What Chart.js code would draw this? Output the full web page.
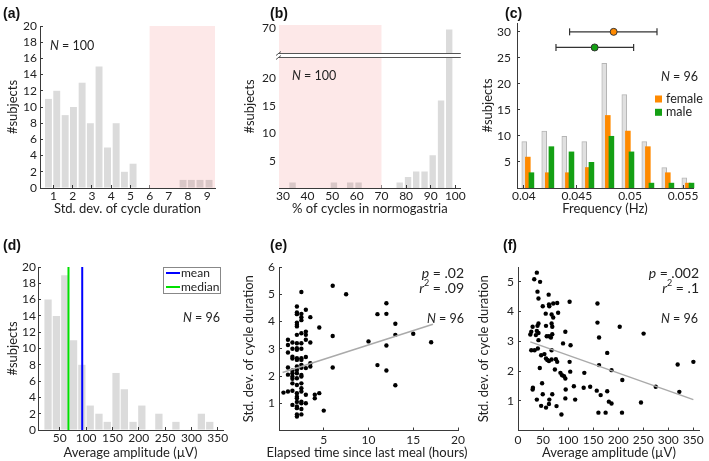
<!DOCTYPE html>
<html>
<head>
<meta charset="utf-8">
<title>Gastric rhythm summary</title>
<script src="https://cdn.jsdelivr.net/npm/chart.js@4.4.1/dist/chart.umd.min.js"></script>
<style>
  body { margin: 0; background: #fff; }
  #fig { position: relative; width: 709px; height: 461px; overflow: hidden; }
  #fig canvas { position: absolute; }
  .tag { position: absolute; font: bold 14px "Liberation Sans", Arial, sans-serif; line-height: 16px; color: #111; }
</style>
</head>
<body>
<div id="fig">
  <canvas id="pA" width="235" height="225" style="left:0;top:0"></canvas>
  <canvas id="pB" width="235" height="225" style="left:235px;top:0"></canvas>
  <canvas id="pC" width="239" height="225" style="left:470px;top:0"></canvas>
  <canvas id="pD" width="235" height="236" style="left:0;top:225px"></canvas>
  <canvas id="pE" width="235" height="236" style="left:235px;top:225px"></canvas>
  <canvas id="pF" width="239" height="236" style="left:470px;top:225px"></canvas>
  <div class="tag" style="left:3px;top:5px">(a)</div>
  <div class="tag" style="left:270px;top:5px">(b)</div>
  <div class="tag" style="left:505px;top:5px">(c)</div>
  <div class="tag" style="left:3px;top:237px">(d)</div>
  <div class="tag" style="left:270px;top:237px">(e)</div>
  <div class="tag" style="left:503px;top:237px">(f)</div>
</div>
<script>
// ---------- (a) std. dev. of cycle duration, histogram
const sdCentres = [0.74, 1.17, 1.61, 2.04, 2.49, 2.92, 3.37, 3.81, 4.26, 4.69, 5.14, 7.74, 8.17, 8.62, 9.09];
const sdCounts  = [11, 12, 9, 10, 13, 8, 15, 5, 8, 2, 3, 1, 1, 1, 1];
const sdTicksX  = [1, 2, 3, 4, 5, 6, 7, 8, 9];
const sdTicksY  = [0, 2, 4, 6, 8, 10, 12, 14, 16, 18, 20];
const sdAbnormal = [6, 9.4];

// ---------- (b) % of cycles in normogastria (broken y axis)
const pctCentres = [33.9, 50.7, 57.3, 60.7, 77.4, 80.8, 84.1, 87.5, 90.8, 94.2, 97.5];
const pctCounts  = [1, 1, 1, 1, 1, 2, 3, 3, 6, 16, 65];
const pctTicksX  = [30, 40, 50, 60, 70, 80, 90, 100];
const pctTicksY  = [5, 10, 15, 20, 70];
const pctAbnormal = [28.4, 70];

// ---------- (c) frequency by sex
const freqCentres = [0.04038, 0.04226, 0.04415, 0.04603, 0.04791, 0.0498, 0.05168, 0.05356, 0.05545];
const freqAll    = [9, 11, 10, 9, 24, 18, 9, 4, 2];
const freqFemale = [6, 3, 3, 4, 14, 11, 8, 3, 1];
const freqMale   = [3, 8, 7, 5, 10, 7, 1, 1, 1];
const femaleStat = [0.04431, 0.04846, 0.05254];   // lo, mean, hi
const maleStat   = [0.04303, 0.04667, 0.05034];
const femaleRow = 30, maleRow = 27;
const freqTicksX = [0.04, 0.045, 0.05, 0.055];
const freqTicksY = [5, 10, 15, 20, 25, 30];

// ---------- (d) average amplitude
const ampCentres = [27.7, 43.6, 59.5, 76.1, 91.9, 107.8, 124.4, 140.2, 156.8, 172.6, 189.2, 205.8, 221.6, 238.2, 254.1, 270.6, 286.5, 303.1, 318.9, 334.8];
const ampCounts  = [16, 14, 19, 11, 8, 3, 2, 1, 7, 5, 1, 3, 0, 2, 0, 1, 0, 0, 2, 1];
const ampMean = 92.6, ampMedian = 66.5;
const ampTicksX = [50, 100, 150, 200, 250, 300, 350];
const ampTicksY = [0, 2, 4, 6, 8, 10, 12, 14, 16, 18, 20];

// ---------- (e) SD vs hours since last meal
const mealHours = [0.5,
  1, 1, 1, 1, 1, 1,
  1.5, 1.5, 1.5, 1.5, 1.5, 1.5, 1.5, 1.5, 1.5, 1.5, 1.5,
  2, 2, 2, 2, 2, 2, 2, 2, 2, 2, 2, 2, 2, 2, 2, 2, 2, 2, 2, 2, 2, 2, 2, 2, 2,
  2.5, 2.5, 2.5, 2.5, 2.5, 2.5, 2.5, 2.5, 2.5, 2.5, 2.5, 2.5, 2.5, 2.5, 2.5, 2.5, 2.5, 2.5, 2.5, 2.5,
  3, 3, 3, 3, 3, 3, 3, 3,
  3.5, 3.5, 3.5, 3.5,
  4, 4, 4.5, 4.5, 5, 6, 6, 6, 7.5, 10, 11, 11, 12, 12, 12, 12, 13, 13, 13, 15, 17];
const mealSd = [1.39,
  3.33, 3.14, 2.86, 2.31, 1.43, 2.05,
  3.23, 2.71, 2.64, 2.10, 1.98, 1.90, 1.73, 1.46, 0.94, 2.2, 3.0,
  4.55, 4.33, 4.27, 3.96, 3.88, 3.82, 3.51, 3.02, 2.96, 2.65, 2.59, 2.35, 2.22, 1.92, 1.67, 1.37, 1.24, 1.18, 0.88, 0.82, 0.59, 0.51, 3.2, 2.1, 1.05,
  5.08, 4.28, 4.16, 3.57, 3.20, 2.65, 2.59, 2.41, 2.04, 1.98, 1.73, 1.55, 1.43, 1.06, 1.0, 0.79, 0.59, 3.0, 2.3, 4.05,
  4.43, 3.63, 3.51, 3.33, 2.29, 1.31, 1.0, 2.7,
  4.16, 3.23, 2.47, 2.35,
  1.31, 1.18, 3.78, 1.37, 0.73, 5.31, 3.47, 2.31, 5.0, 3.27, 4.27, 2.40, 4.67, 4.28, 3.12, 2.20, 3.92, 3.51, 1.66, 3.55, 3.24];
const mealFitX = [0.4, 17.2];
const mealFitY = [2.13, 3.9];

// ---------- (f) SD vs average amplitude
const ampX = [37.6, 32.4, 44.1, 38.9, 40.9, 61.2, 49.4, 61.8, 62.5, 70.3, 78.2, 103.0, 55.3, 67.1, 80.1, 70.3, 67.1, 40.9, 38.9, 55.9,
  68.4, 29.2, 26.5, 37.6, 40.9, 57.3, 61.8, 65.7, 68.4, 94.5, 24.6, 35.7, 40.9, 89.9, 104.9, 26.5, 33.1, 39.6, 67.1, 46.2,
  52.7, 55.9, 58.6, 61.8, 67.1, 75.6, 78.2, 103.0, 43.5, 73.6, 84.7, 88.0, 91.9, 94.5, 104.3, 29.8, 29.2, 48.1, 95.2, 111.5,
  49.4, 68.4, 37.6, 62.5, 94.5, 114.1, 46.2, 55.9, 61.8, 76.9, 86.7,
  158.6, 158.6, 203.0, 161.8, 250.7, 178.1, 161.8, 132.4, 186.7, 318.7, 350.1, 208.2, 131.1, 144.1, 157.2, 165.0, 178.1,
  181.4, 186.7, 245.5, 322.0, 160.5, 174.9, 207.6, 274.9];
const ampSd = [5.31, 5.09, 5.0, 4.67, 4.44, 4.57, 4.18, 4.24, 4.18, 4.27, 4.29, 4.33, 3.93, 3.9, 3.96, 3.8, 3.6, 3.6, 3.52, 3.52,
  3.49, 3.49, 3.32, 3.35, 3.28, 3.17, 3.17, 3.13, 3.24, 3.32, 3.23, 3.21, 3.04, 2.93, 2.87, 2.7, 2.7, 2.76, 2.7, 2.53,
  2.57, 2.42, 2.37, 2.34, 2.39, 2.4, 2.31, 2.31, 2.1, 2.05, 1.94, 1.86, 1.83, 1.75, 1.98, 1.44, 1.38, 1.59, 1.38, 1.49,
  1.22, 1.22, 1.04, 1.04, 1.08, 1.04, 0.83, 0.77, 0.89, 0.82, 0.54,
  4.27, 3.63, 3.49, 3.13, 3.26, 2.61, 2.2, 1.94, 2.03, 2.22, 2.31, 1.70, 1.44, 1.47, 1.34, 1.19, 1.32,
  0.97, 0.91, 0.94, 1.30, 0.60, 0.60, 0.60, 1.47];
const ampFitX = [24.6, 350];
const ampFitY = [2.98, 1.04];
const ampTicksXf = [0, 50, 100, 150, 200, 250, 300, 350];

// ---------- look
const FONT = 'Lato, "Open Sans", sans-serif';
const AXIS = '#3a3a3a';
const INK = '#222';
const BAR = 'rgba(0,0,0,0.14)';
const PINK = '#fde8e8';
const ORANGE = '#ff8a00';
const GREEN = '#14a014';
const TITLE = 13;

Chart.defaults.font.family = FONT;
Chart.defaults.font.size = 12;
Chart.defaults.color = INK;
Chart.defaults.animation = false;
Chart.defaults.events = [];
Chart.defaults.plugins.legend.display = false;
Chart.defaults.plugins.tooltip.enabled = false;

const pts = (xs, ys) => xs.map((x, i) => ({ x: x, y: ys[i] }));

// axis with inward tick marks and fixed box size, so the plot area lands where it should
function xAxis(o) {
  return {
    type: 'linear', position: 'bottom', min: o.min, max: o.max, offset: false,
    grid: { drawOnChartArea: false, tickLength: -3, color: AXIS, offset: false },
    border: { color: AXIS },
    ticks: { padding: o.pad, maxRotation: 0, autoSkip: false, callback: o.fmt || (v => String(v)) },
    title: { display: !!o.title, text: o.title, color: INK, font: { size: TITLE }, padding: { top: 0, bottom: o.tpad } },
    afterBuildTicks: s => { s.ticks = o.ticks.map(v => ({ value: v })); },
    afterFit: s => { s.height = o.h; }
  };
}
function yAxis(o) {
  return {
    type: 'linear', position: 'left', min: o.min, max: o.max,
    grid: { drawOnChartArea: false, tickLength: -3, color: AXIS },
    border: { color: AXIS },
    ticks: { padding: o.pad, autoSkip: false, callback: o.fmt || (v => String(v)) },
    title: { display: true, text: o.title, color: INK, font: { size: TITLE }, padding: { top: o.tpad, bottom: 0 } },
    afterBuildTicks: s => { s.ticks = o.ticks.map(v => ({ value: v })); },
    afterFit: s => { s.width = o.w; }
  };
}
const pad = (W, top, right) => ({ left: 0, top: top, right: W - right, bottom: 0 });

// shaded "abnormal" x range
const shade = {
  id: 'shade',
  beforeDatasetsDraw(chart, args, o) {
    if (!o.range) return;
    const { ctx, chartArea: a, scales: { x } } = chart;
    const x1 = Math.max(a.left, x.getPixelForValue(o.range[0]));
    const x2 = Math.min(a.right, x.getPixelForValue(o.range[1]));
    ctx.save();
    ctx.fillStyle = o.color;
    ctx.fillRect(x1, a.top, x2 - x1, a.bottom - a.top);
    ctx.restore();
  }
};

// free text (italic / superscript parts)
const notes = {
  id: 'notes',
  afterDraw(chart, args, o) {
    if (!o.items) return;
    const ctx = chart.ctx;
    ctx.save();
    ctx.fillStyle = INK;
    ctx.textBaseline = 'middle';
    o.items.forEach(it => {
      const size = it.size || 12.5;
      const f = p => (p.it ? 'italic ' : '') + (p.sup ? Math.round(size * 0.62) : size) + 'px ' + FONT;
      let w = 0;
      it.parts.forEach(p => { ctx.font = f(p); w += ctx.measureText(p.t).width; });
      let x = it.align === 'right' ? it.x - w : it.align === 'center' ? it.x - w / 2 : it.x;
      it.parts.forEach(p => {
        ctx.font = f(p);
        ctx.fillText(p.t, x, p.sup ? it.y - size * 0.33 : it.y);
        x += ctx.measureText(p.t).width;
      });
    });
    ctx.restore();
  }
};

// small legend drawn inside the plot
const keyBox = {
  id: 'keyBox',
  afterDraw(chart, args, o) {
    if (!o.items) return;
    const ctx = chart.ctx;
    ctx.save();
    if (o.frame) {
      const [x1, y1, x2, y2] = o.frame;
      ctx.fillStyle = '#fff';
      ctx.fillRect(x1, y1, x2 - x1, y2 - y1);
      ctx.strokeStyle = '#888';
      ctx.lineWidth = 1;
      ctx.strokeRect(x1 + 0.5, y1 + 0.5, x2 - x1, y2 - y1);
    }
    ctx.font = (o.fsize || 12) + 'px ' + FONT;
    ctx.textBaseline = 'middle';
    o.items.forEach((di, k) => {
      const ds = chart.data.datasets[di];
      const y = o.y + k * o.dy;
      if (o.kind === 'line') {
        ctx.strokeStyle = ds.borderColor;
        ctx.lineWidth = ds.borderWidth;
        ctx.beginPath(); ctx.moveTo(o.x, y); ctx.lineTo(o.x + o.len, y); ctx.stroke();
      } else {
        ctx.fillStyle = ds.backgroundColor;
        ctx.fillRect(o.x, y - o.size / 2, o.size, o.size);
      }
      ctx.fillStyle = INK;
      ctx.fillText(ds.label, o.tx, y);
    });
    ctx.restore();
  }
};

// broken y axis marks for (b)
const axisBreak = {
  id: 'axisBreak',
  afterDatasetsDraw(chart, args, o) {
    if (!o.at) return;
    const { ctx, chartArea: a, scales: { y } } = chart;
    const y1 = Math.round(y.getPixelForValue(o.at[1])) + 0.5;
    const y2 = Math.round(y.getPixelForValue(o.at[0])) + 0.5;
    ctx.save();
    ctx.fillStyle = '#fff';
    ctx.fillRect(a.left - 4, y1, a.right - a.left + 4, y2 - y1);
    ctx.strokeStyle = '#555';
    ctx.lineWidth = 1;
    ctx.beginPath();
    ctx.moveTo(a.left, y1); ctx.lineTo(a.right, y1);
    ctx.moveTo(a.left, y2); ctx.lineTo(a.right, y2);
    ctx.moveTo(a.left - 3, y1 + 2); ctx.lineTo(a.left + 2, y1 - 2);
    ctx.moveTo(a.left - 3, y2 + 2); ctx.lineTo(a.left + 2, y2 - 2);
    ctx.stroke();
    ctx.restore();
  }
};

// draw bar datasets in index order (grey behind, colours on top)
const barsInOrder = {
  id: 'barsInOrder',
  beforeDatasetsDraw(chart) {
    chart.getSortedVisibleDatasetMetas().filter(m => m.type === 'bar')
      .sort((a, b) => a.index - b.index).forEach(m => m.controller.draw());
  },
  beforeDatasetDraw(chart, args) {
    if (args.meta.type === 'bar') return false;
  }
};

const N = t => [{ t: 'N', it: true }, { t: ' = ' + t }];

// ---------- (a)
new Chart('pA', {
  type: 'bar',
  data: { datasets: [{ data: pts(sdCentres, sdCounts), backgroundColor: BAR, barPercentage: 0.84, categoryPercentage: 1 }] },
  options: {
    responsive: false,
    layout: { padding: pad(235, 26, 215) },
    scales: {
      x: xAxis({ min: 0.3, max: 9.4, ticks: sdTicksX, title: 'Std. dev. of cycle duration', h: 37, pad: 4, tpad: 8 }),
      y: yAxis({ min: 0, max: 20, ticks: sdTicksY, title: '#subjects', w: 40, pad: 6, tpad: 5 })
    },
    plugins: {
      shade: { range: sdAbnormal, color: PINK },
      notes: { items: [{ parts: N('100'), x: 50, y: 46 }] }
    }
  },
  plugins: [shade, notes]
});

// ---------- (b)  values above the break are squeezed into the top band
const BREAK_LOW = 24, TOP_REAL = 70, TOP_DISP = 29.3;
const brk = v => (v <= BREAK_LOW ? v : TOP_DISP - (TOP_REAL - v) * 0.06);
const pctTickVals = pctTicksY.map(brk);

new Chart('pB', {
  type: 'bar',
  data: { datasets: [{ data: pts(pctCentres, pctCounts.map(brk)), backgroundColor: BAR, barPercentage: 0.79, categoryPercentage: 1 }] },
  options: {
    responsive: false,
    layout: { padding: pad(235, 25, 228) },
    scales: {
      x: xAxis({ min: 28.4, max: 102.2, ticks: pctTicksX, title: '% of cycles in normogastria', h: 37, pad: 4, tpad: 8 }),
      y: yAxis({ min: 0, max: 29.8, ticks: pctTickVals, title: '#subjects', w: 44, pad: 6, tpad: 7,
        fmt: v => { const i = pctTickVals.indexOf(v); return i >= 0 ? String(pctTicksY[i]) : ''; } })
    },
    plugins: {
      shade: { range: pctAbnormal, color: PINK },
      axisBreak: { at: [23.9, 24.6] },
      notes: { items: [{ parts: N('100'), x: 57, y: 76 }] }
    }
  },
  plugins: [shade, axisBreak, notes]
});

// ---------- (c)
const cBar = { barPercentage: 1.55, categoryPercentage: 0.54 };
new Chart('pC', {
  type: 'bar',
  data: {
    datasets: [
      Object.assign({ label: 'all', data: pts(freqCentres, freqAll), backgroundColor: 'rgba(0,0,0,0.12)', borderColor: '#b5b5b5', borderWidth: 1 }, cBar),
      Object.assign({ label: 'female', data: pts(freqCentres, freqFemale), backgroundColor: ORANGE }, cBar),
      Object.assign({ label: 'male', data: pts(freqCentres, freqMale), backgroundColor: GREEN }, cBar),
      { type: 'line', showLine: false, data: [{ x: femaleStat[1], y: femaleRow }], pointRadius: 3.5,
        pointBackgroundColor: ORANGE, pointBorderColor: '#333', pointBorderWidth: 1 },
      { type: 'line', showLine: false, data: [{ x: maleStat[1], y: maleRow }], pointRadius: 3.5,
        pointBackgroundColor: GREEN, pointBorderColor: '#333', pointBorderWidth: 1 },
      { type: 'line', data: [{ x: femaleStat[0], y: femaleRow }, { x: femaleStat[2], y: femaleRow }],
        borderColor: '#333', borderWidth: 1.2, pointStyle: 'line', rotation: 90, pointRadius: 3.5, pointBorderColor: '#333', pointBorderWidth: 1.2 },
      { type: 'line', data: [{ x: maleStat[0], y: maleRow }, { x: maleStat[2], y: maleRow }],
        borderColor: '#333', borderWidth: 1.2, pointStyle: 'line', rotation: 90, pointRadius: 3.5, pointBorderColor: '#333', pointBorderWidth: 1.2 }
    ]
  },
  options: {
    responsive: false,
    layout: { padding: pad(239, 23, 223) },
    scales: {
      x: xAxis({ min: 0.03936, max: 0.05593, ticks: freqTicksX, title: 'Frequency (Hz)', h: 37, pad: 4, tpad: 8 }),
      y: yAxis({ min: 0, max: 31.7, ticks: freqTicksY, title: '#subjects', w: 47, pad: 9, tpad: 10 })
    },
    plugins: {
      notes: { items: [{ parts: N('96'), x: 228, y: 77, align: 'right' }] },
      keyBox: { items: [1, 2], kind: 'square', x: 185, y: 99, dy: 13.3, size: 7, tx: 196, fsize: 12.5 }
    }
  },
  plugins: [barsInOrder, notes, keyBox]
});

// ---------- (d)
new Chart('pD', {
  type: 'bar',
  data: {
    datasets: [
      { type: 'line', label: 'mean', data: [{ x: ampMean, y: 0 }, { x: ampMean, y: 20 }], borderColor: '#0000ff', borderWidth: 2, pointRadius: 0 },
      { type: 'line', label: 'median', data: [{ x: ampMedian, y: 0 }, { x: ampMedian, y: 20 }], borderColor: '#00e000', borderWidth: 2, pointRadius: 0 },
      { data: pts(ampCentres, ampCounts), backgroundColor: BAR, barPercentage: 0.88, categoryPercentage: 1 }
    ]
  },
  options: {
    responsive: false,
    layout: { padding: pad(235, 42, 223) },
    scales: {
      x: xAxis({ min: 8.6, max: 360, ticks: ampTicksX, title: 'Average amplitude (\u00b5V)', h: 31, pad: 4, tpad: 0.5 }),
      y: yAxis({ min: 0, max: 20, ticks: ampTicksY, title: '#subjects', w: 38, pad: 5, tpad: 5 })
    },
    plugins: {
      notes: { items: [{ parts: N('96'), x: 220, y: 93, align: 'right' }] },
      keyBox: { items: [0, 1], kind: 'line', frame: [163, 42, 220, 68], x: 166, len: 14, y: 48, dy: 14, tx: 181, fsize: 12 }
    }
  },
  plugins: [notes, keyBox]
});

// ---------- (e)  x title drawn as a note: it is wider than the axis
new Chart('pE', {
  type: 'scatter',
  data: {
    datasets: [
      { type: 'line', data: pts(mealFitX, mealFitY), borderColor: '#aaaaaa', borderWidth: 1.5, pointRadius: 0 },
      { data: pts(mealHours, mealSd), backgroundColor: '#000', borderWidth: 0, pointRadius: 2.2 }
    ]
  },
  options: {
    responsive: false,
    layout: { padding: pad(235, 42, 223) },
    scales: {
      x: xAxis({ min: 0, max: 20, ticks: [5, 10, 15, 20], title: '', h: 30.5, pad: 5, tpad: 0.5 }),
      y: yAxis({ min: 0, max: 6, ticks: [1, 2, 3, 4, 5, 6], title: 'Std. dev. of cycle duration', w: 44, pad: 7, tpad: 6 })
    },
    plugins: {
      notes: { items: [
        { parts: [{ t: 'p', it: true }, { t: ' = .02' }], x: 229, y: 48, align: 'right', size: 14 },
        { parts: [{ t: 'r', it: true }, { t: '2', sup: true }, { t: ' = .09' }], x: 229, y: 63, align: 'right', size: 14 },
        { parts: N('96'), x: 229, y: 94, align: 'right' },
        { parts: [{ t: 'Elapsed time since last meal (hours)' }], x: 132, y: 228, align: 'center', size: TITLE }
      ] }
    }
  },
  plugins: [notes]
});

// ---------- (f)
new Chart('pF', {
  type: 'scatter',
  data: {
    datasets: [
      { type: 'line', data: pts(ampFitX, ampFitY), borderColor: '#aaaaaa', borderWidth: 1.5, pointRadius: 0 },
      { data: pts(ampX, ampSd), backgroundColor: '#000', borderWidth: 0, pointRadius: 2.2 }
    ]
  },
  options: {
    responsive: false,
    layout: { padding: pad(239, 42, 233) },
    scales: {
      x: xAxis({ min: 0, max: 363, ticks: ampTicksXf, title: 'Average amplitude (\u00b5V)', h: 30.5, pad: 5, tpad: 0.5 }),
      y: yAxis({ min: 0, max: 5.5, ticks: [1, 2, 3, 4, 5], title: 'Std. dev. of cycle duration', w: 48, pad: 7, tpad: 6 })
    },
    plugins: {
      notes: { items: [
        { parts: [{ t: 'p', it: true }, { t: ' = .002' }], x: 229, y: 48, align: 'right', size: 14 },
        { parts: [{ t: 'r', it: true }, { t: '2', sup: true }, { t: ' = .1' }], x: 229, y: 63, align: 'right', size: 14 },
        { parts: N('96'), x: 228, y: 94, align: 'right' }
      ] }
    }
  },
  plugins: [notes]
});
</script>
</body>
</html>
